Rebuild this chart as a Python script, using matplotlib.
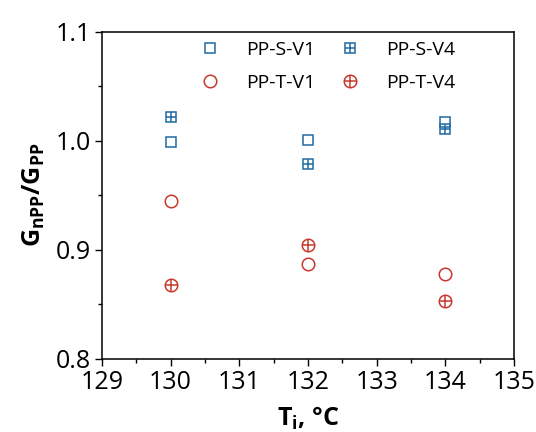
import numpy as np
import matplotlib
matplotlib.use('Agg')
import matplotlib.pyplot as plt
from matplotlib.lines import Line2D

plt.rcParams['font.family'] = ['Open Sans', 'DejaVu Sans']
plt.rcParams['mathtext.fontset'] = 'custom'
plt.rcParams['mathtext.bf'] = 'Open Sans:bold'
plt.rcParams['mathtext.rm'] = 'Open Sans'
plt.rcParams['xtick.direction'] = 'out'
plt.rcParams['ytick.direction'] = 'out'

temps = [130, 132, 134]
pp_s_v1 = [0.999, 1.001, 1.017]
pp_s_v4 = [1.022, 0.979, 1.011]
pp_t_v1 = [0.945, 0.887, 0.878]
pp_t_v4 = [0.868, 0.904, 0.853]

blue = '#1f6aa0'
red = '#c8382c'

fig = plt.figure(figsize=(5.36, 4.32), dpi=100)
ax = fig.add_axes([0.19, 0.169, 0.769, 0.758])

ms_sq = 7.8
ms_ci = 9.0
ax.plot(temps, pp_s_v1, ls='none', marker='s', ms=ms_sq, mfc='none', mec=blue, mew=1.1)
ax.plot(temps, pp_s_v4, ls='none', marker='s', ms=ms_sq, mfc='none', mec=blue, mew=1.1)
ax.plot(temps, pp_s_v4, ls='none', marker='+', ms=ms_sq, mec=blue, mew=1.1)
ax.plot(temps, pp_t_v1, ls='none', marker='o', ms=ms_ci, mfc='none', mec=red, mew=1.1)
ax.plot(temps, pp_t_v4, ls='none', marker='o', ms=ms_ci, mfc='none', mec=red, mew=1.1)
ax.plot(temps, pp_t_v4, ls='none', marker='+', ms=ms_ci, mec=red, mew=1.1)

ax.set_xlim(129, 135)
ax.set_ylim(0.8, 1.1)
ax.set_xticks(np.arange(129, 136, 1))
ax.set_xticks(np.arange(129.5, 135, 1), minor=True)
ax.set_yticks([0.8, 0.9, 1.0, 1.1])
ax.set_yticks([0.85, 0.95, 1.05], minor=True)
ax.set_yticklabels(['0.8', '0.9', '1.0', '1.1'])
ax.tick_params(which='major', length=5, width=1, labelsize=18, pad=3)
ax.tick_params(which='minor', length=3, width=1)
for s in ax.spines.values():
    s.set_linewidth(1.1)

ax.set_xlabel(r'$\mathbf{T_i}$, °C', fontsize=18, fontweight='bold', labelpad=7)
ax.set_ylabel(r'$\mathbf{G_{nPP}/G_{PP}}$', fontsize=18, labelpad=6)

handles = [
    Line2D([], [], ls='none', marker='s', ms=ms_sq, mfc='none', mec=blue, mew=1.1),
    Line2D([], [], ls='none', marker='o', ms=ms_ci, mfc='none', mec=red, mew=1.1),
    (Line2D([], [], ls='none', marker='s', ms=ms_sq, mfc='none', mec=blue, mew=1.1),
     Line2D([], [], ls='none', marker='+', ms=ms_sq, mec=blue, mew=1.1)),
    (Line2D([], [], ls='none', marker='o', ms=ms_ci, mfc='none', mec=red, mew=1.1),
     Line2D([], [], ls='none', marker='+', ms=ms_ci, mec=red, mew=1.1)),
]
labels = ['PP-S-V1', 'PP-T-V1', 'PP-S-V4', 'PP-T-V4']
ax.legend(handles, labels, ncol=2, frameon=False, fontsize=14,
          loc='upper center', bbox_to_anchor=(0.537, 1.024),
          handletextpad=0.85, columnspacing=0.8, labelspacing=0.76)

fig.savefig('out.png', dpi=100)
